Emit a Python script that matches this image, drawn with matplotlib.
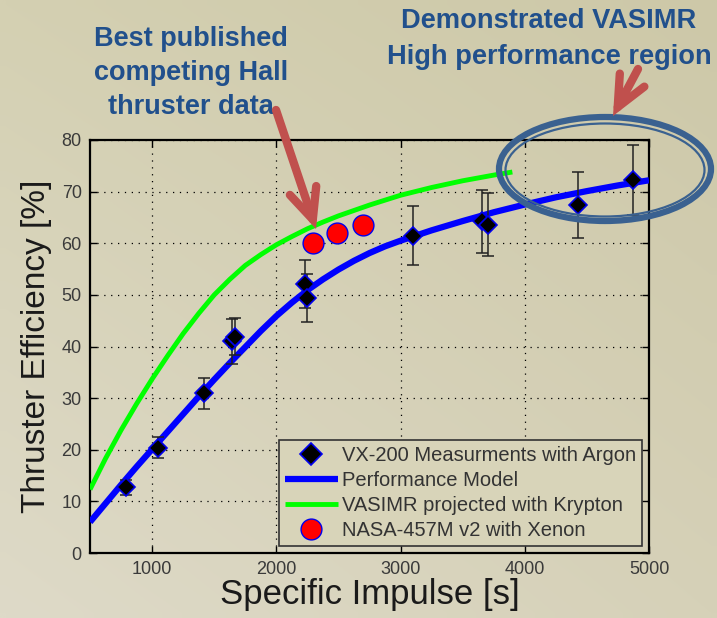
import numpy as np
import matplotlib
matplotlib.use("Agg")
import matplotlib.pyplot as plt
from matplotlib.patches import Ellipse

plt.rcParams['font.family'] = ['Liberation Sans', 'DejaVu Sans']

# ---------------- data ----------------
vx_isp = [787, 1044, 1416, 1640, 1670, 2234, 2250, 3099, 3654, 3702, 4431, 4873]
vx_eff = [12.7, 20.4, 30.9, 41.0, 41.9, 52.1, 49.4, 61.5, 64.3, 63.6, 67.4, 72.3]
vx_err = [1.5, 2.0, 3.0, 4.3, 3.6, 4.7, 4.7, 5.8, 6.1, 6.1, 6.4, 6.8]

model_isp = [500, 625, 750, 875, 1000, 1125, 1250, 1375, 1500, 1625, 1750,
             1875, 2000, 2125, 2250, 2375, 2500, 2625, 2750, 2875, 3000,
             3250, 3500, 3750, 4000, 4250, 4500, 4750, 5000]
model_eff = [6.0, 9.6, 13.2, 16.7, 20.1, 23.5, 26.9, 30.3, 33.6, 36.8, 39.9,
             43.0, 45.9, 48.5, 50.9, 53.0, 54.9, 56.6, 58.1, 59.4, 60.5,
             62.5, 64.3, 66.0, 67.5, 68.9, 70.1, 71.2, 72.2]

kr_isp = [500, 625, 750, 875, 1000, 1125, 1250, 1375, 1500, 1625, 1750,
          1875, 2000, 2125, 2250, 2375, 2500, 2750, 3000, 3250, 3500, 3750, 3900]
kr_eff = [12.3, 18.3, 23.8, 28.9, 33.7, 38.2, 42.5, 46.4, 50.0, 53.0, 55.7,
          57.8, 59.7, 61.3, 62.8, 64.1, 65.3, 67.4, 69.3, 70.8, 72.1, 73.2, 73.8]

hall_isp = [2296, 2491, 2697]
hall_eff = [60.0, 62.0, 63.6]

xticks = [1000, 2000, 3000, 4000, 5000]
yticks = [0, 10, 20, 30, 40, 50, 60, 70, 80]

labels = ["VX-200 Measurments with Argon", "Performance Model",
          "VASIMR projected with Krypton", "NASA-457M v2 with Xenon"]

# ---------------- figure ----------------
W, H = 717, 618
fig = plt.figure(figsize=(W / 100, H / 100), dpi=100)

# background gradient
bg = fig.add_axes([0, 0, 1, 1], zorder=-10)
tl = np.array([212, 208, 178]); bl = np.array([222, 218, 200])
tr = np.array([205, 200, 168]); br = np.array([214, 209, 184])
u = np.linspace(0, 1, 64)[None, :, None]
v = np.linspace(0, 1, 64)[:, None, None]
img = (tl * (1 - u) * (1 - v) + tr * u * (1 - v) + bl * (1 - u) * v + br * u * v) / 255.0
bg.imshow(img, aspect='auto', extent=[0, 1, 0, 1], interpolation='bilinear')
bg.axis('off')

ax = fig.add_axes([90 / W, 1 - 553 / H, 559 / W, 413 / H])
ax.set_facecolor('none')

ax.errorbar(vx_isp, vx_eff, yerr=vx_err, fmt='none', ecolor='#222222',
            elinewidth=1.1, capsize=4.2, capthick=1.1, zorder=4)
dm, = ax.plot(vx_isp, vx_eff, 'D', ms=9.5, mfc='black', mec='#0000ee',
              mew=1.2, ls='none', zorder=4, label=labels[0])
l1, = ax.plot(model_isp, model_eff, color='#0000ff', lw=4.5, zorder=3,
              solid_capstyle='butt', label=labels[1])
l2, = ax.plot(kr_isp, kr_eff, color='#00ff00', lw=3.5, zorder=3,
              solid_capstyle='butt', label=labels[2])
sc, = ax.plot(hall_isp, hall_eff, 'o', ms=15, mfc='#ff0000', mec='#0000ee',
              mew=1.0, ls='none', zorder=5, label=labels[3])

ax.set_xlim(500, 5000)
ax.set_ylim(0, 80)
ax.set_xticks(xticks)
ax.set_yticks(yticks)
ax.tick_params(direction='in', length=5, width=1, top=True, right=True,
               labelsize=13, labelcolor='#3a3a3a', pad=6)
for s in ax.spines.values():
    s.set_linewidth(1.6)
    s.set_color('black')
ax.grid(True, color='black', lw=0.9, ls=(0, (1, 4.5)))
ax.set_axisbelow(True)

ax.set_xlabel('Specific Impulse [s]', fontsize=25, color='#1a1a1a', labelpad=0)
ax.set_ylabel('Thruster Efficiency [%]', fontsize=24, color='#1a1a1a', labelpad=7)

leg = ax.legend(handles=[dm, l1, l2, sc], labels=labels, loc='lower right',
                bbox_to_anchor=(0.987, 0.017), fontsize=14.5, frameon=True,
                fancybox=False, framealpha=1, facecolor='#d8d4b9',
                edgecolor='#333333', handlelength=2.6, handletextpad=0.2,
                labelspacing=0.3, borderpad=0.3, borderaxespad=0)
leg.get_frame().set_linewidth(1.2)
leg.legend_handles[0].set_markersize(11.5)
for t in leg.get_texts():
    t.set_color('#333333')

# ---------------- annotations overlay (pixel coords) ----------------
ov = fig.add_axes([0, 0, 1, 1], zorder=10)
ov.set_xlim(0, W)
ov.set_ylim(H, 0)
ov.axis('off')
ov.patch.set_alpha(0)

txtc = '#21508c'
ov.text(191, 73.5, 'Best published\ncompeting Hall\nthruster data', ha='center',
        va='center', fontsize=19.5, fontweight='bold', color=txtc,
        linespacing=1.4)
ov.text(549, 39, 'Demonstrated VASIMR\nHigh performance region', ha='center',
        va='center', fontsize=19.6, fontweight='bold', color=txtc,
        linespacing=1.5)

arrc = '#c0504d'
ov.annotate('', xy=(316, 229), xytext=(276, 110),
            arrowprops=dict(arrowstyle='->,head_length=2.2,head_width=1.0',
                            lw=6, color=arrc, mutation_scale=10,
                            shrinkA=0, shrinkB=0, joinstyle='miter'))
ov.annotate('', xy=(613, 116), xytext=(638, 69),
            arrowprops=dict(arrowstyle='->,head_length=2.2,head_width=1.0',
                            lw=6, color=arrc, mutation_scale=10,
                            shrinkA=0, shrinkB=0, joinstyle='miter'))

ellc = '#3a6190'
ov.add_patch(Ellipse((605, 169), 212, 104, fill=False, ec=ellc, lw=4.5))
ov.add_patch(Ellipse((605, 170), 199, 93, fill=False, ec=ellc, lw=1.6))

fig.savefig('out.png', dpi=100)
